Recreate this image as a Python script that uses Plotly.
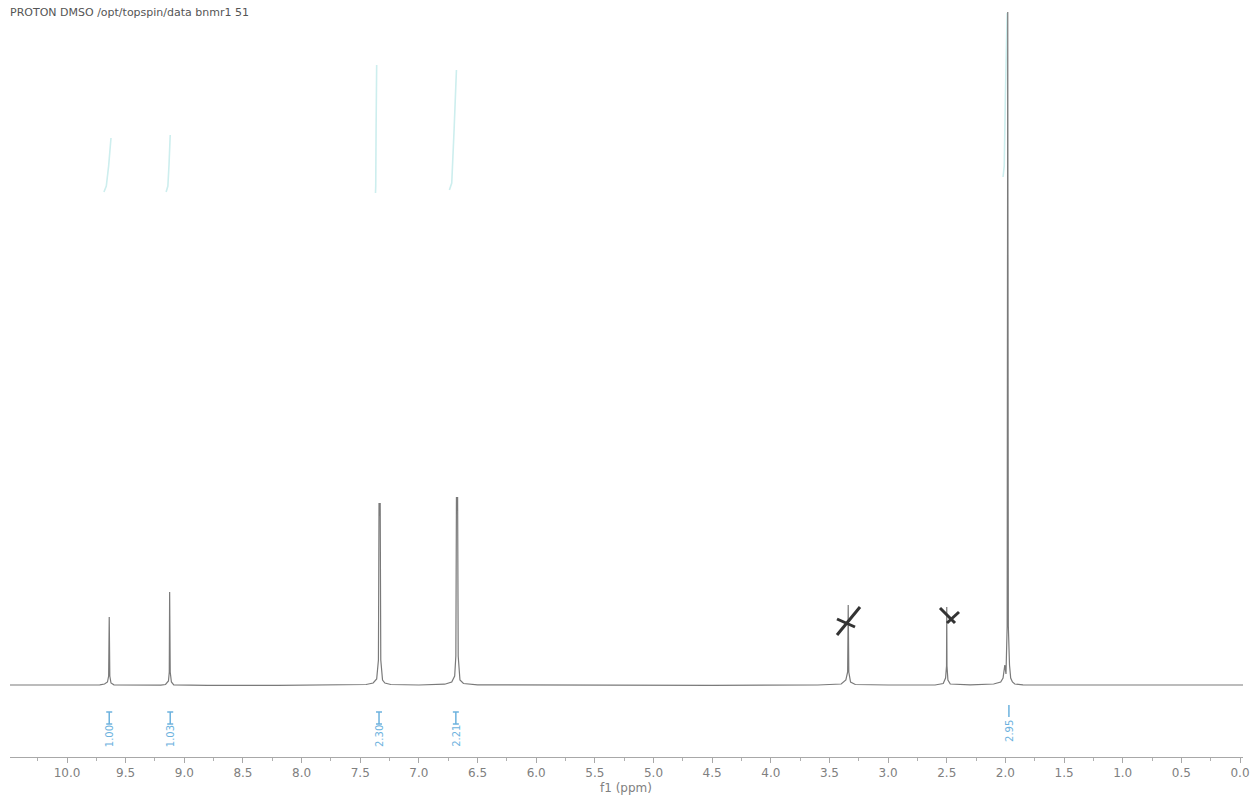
import plotly.graph_objects as go

# ---------------- data ----------------
spec_ppm = [10.49, 10.2, 9.9, 9.72, 9.68, 9.655, 9.645, 9.64, 9.635, 9.625, 9.60, 9.45,
            9.2, 9.16, 9.135, 9.128, 9.125, 9.12, 9.11, 9.09, 8.8, 8.2, 7.7, 7.45,
            7.39, 7.36, 7.345, 7.34, 7.335, 7.33, 7.325, 7.31, 7.29, 7.24, 7.0,
            6.78, 6.72, 6.695, 6.685, 6.68, 6.675, 6.67, 6.665, 6.65, 6.62, 6.5,
            5.5, 4.5, 3.6, 3.40, 3.36, 3.345, 3.34, 3.335, 3.32, 3.28, 3.0,
            2.6, 2.53, 2.51, 2.502, 2.50, 2.498, 2.49, 2.47, 2.30,
            2.10, 2.04, 2.02, 2.005, 1.995, 1.985, 1.98, 1.975, 1.965, 1.955, 1.94, 1.92,
            1.85, 1.6, 1.0, 0.5, -0.03]
spec_int = [1.0, 1.0, 1.0, 1.2, 2.0, 4.0, 10, 69, 10, 3, 1.2, 0.8,
            0.8, 1.5, 5, 14, 94, 14, 4, 1.2, 0.7, 0.6, 0.8, 1.5,
            3, 7, 26, 183, 170, 183, 26, 6, 3, 1.5, 1.0,
            1.8, 4, 10, 30, 189, 175, 189, 30, 6, 2.5, 1.2,
            0.8, 0.7, 1.0, 2, 6, 14, 81, 14, 4, 1.5, 1.0,
            1.0, 2.5, 8, 20, 79, 20, 6, 2, 1.2,
            2, 4, 8, 21, 12, 60, 674, 60, 21, 8, 4, 2,
            1.2, 1.0, 1.0, 1.0, 1.0]

# integral curves (ppm, level)
integral_ppm = [
    [9.685, 9.665, 9.645, 9.63, 9.625],
    [9.155, 9.14, 9.13, 9.122, 9.12],
    [7.37, 7.368, 7.365, 7.362, 7.36],
    [6.74, 6.72, 6.70, 6.685, 6.68],
    [2.02, 2.01, 2.0, 1.99, 1.985],
]
integral_lvl = [
    [494, 500, 520, 542, 548],
    [494, 500, 522, 546, 551],
    [493, 500, 557, 615, 621],
    [496, 503, 556, 610, 616],
    [509, 520, 590, 665, 673],
]
integral_labels = ["1.00", "1.03", "2.30", "2.21", "2.95"]
integral_label_ppm = [9.64, 9.12, 7.34, 6.685, 1.97]

tick_vals = [10.0, 9.5, 9.0, 8.5, 8.0, 7.5, 7.0, 6.5, 6.0, 5.5, 5.0, 4.5, 4.0,
             3.5, 3.0, 2.5, 2.0, 1.5, 1.0, 0.5, 0.0]
tick_text = ["10.0", "9.5", "9.0", "8.5", "8.0", "7.5", "7.0", "6.5", "6.0", "5.5",
             "5.0", "4.5", "4.0", "3.5", "3.0", "2.5", "2.0", "1.5", "1.0", "0.5", "0.0"]

header = "PROTON DMSO /opt/topspin/data bnmr1 51"
x_title = "f1 (ppm)"

# ---------------- layout helpers (page pixel coordinates) ----------------
W, H = 1253, 796
PL, PR, PT, PB = 10, 1243, 0, 757   # plot area edges in pixels
ML, MR, MT, MB = PL, W - PR, PT, H - PB
PX_PER_PPM = 117.3
X10 = 67  # pixel of 10.0 ppm
BASE_PX = 686


def px_x(px):
    return 10 - (px - X10) / PX_PER_PPM


def px_y(py):
    return BASE_PX - py


def paper_x(px):
    return (px - PL) / (PR - PL)


def paper_y(py):
    return (PB - py) / (PB - PT)


xr = [px_x(PL), px_x(PR)]
yr = [px_y(PB), px_y(PT)]

fig = go.Figure()

int_color = "#cdeeee"
for xs, ys in zip(integral_ppm, integral_lvl):
    fig.add_trace(go.Scatter(x=xs, y=ys, mode="lines",
                             line=dict(color=int_color, width=1.6),
                             hoverinfo="skip", showlegend=False))

fig.add_trace(go.Scatter(x=spec_ppm, y=spec_int, mode="lines",
                         line=dict(color="#7a7a7a", width=1.2),
                         hoverinfo="skip", showlegend=False))

shapes = []
annotations = []
lab_color = "#6cb2de"
for i, (lab, p) in enumerate(zip(integral_labels, integral_label_ppm)):
    if i < 4:
        annotations.append(dict(x=p, y=px_y(736), xref="x", yref="y", text=lab,
                                textangle=-90, showarrow=False,
                                font=dict(family="DejaVu Sans", size=10, color=lab_color)))
        shapes.append(dict(type="line", x0=p, x1=p, y0=px_y(712), y1=px_y(724),
                           xref="x", yref="y", line=dict(color=lab_color, width=1.5)))
        for yy in (712, 724):
            shapes.append(dict(type="line", x0=p - 3 / PX_PER_PPM, x1=p + 3 / PX_PER_PPM,
                               y0=px_y(yy), y1=px_y(yy), xref="x", yref="y",
                               line=dict(color=lab_color, width=1.5)))
    else:
        annotations.append(dict(x=p, y=px_y(731), xref="x", yref="y", text=lab,
                                textangle=-90, showarrow=False,
                                font=dict(family="DejaVu Sans", size=10, color=lab_color)))
        shapes.append(dict(type="line", x0=p, x1=p, y0=px_y(705), y1=px_y(717),
                           xref="x", yref="y", line=dict(color=lab_color, width=1.5)))

# hand-drawn crosses over solvent peaks
cross_strokes = [((837, 635), (860, 607)), ((837, 619), (855, 627)),
                 ((940, 608), (955, 623)), ((947, 623), (959, 612))]
for (a, b) in cross_strokes:
    shapes.append(dict(type="line", x0=px_x(a[0]), y0=px_y(a[1]), x1=px_x(b[0]), y1=px_y(b[1]),
                       xref="x", yref="y", line=dict(color="#333333", width=3)))

annotations.append(dict(x=paper_x(8), y=paper_y(12), xref="paper", yref="paper",
                        text=header, showarrow=False, xanchor="left", yanchor="middle",
                        font=dict(family="DejaVu Sans", size=11, color="#555555")))
annotations.append(dict(x=paper_x(626), y=paper_y(788), xref="paper", yref="paper",
                        text=x_title, showarrow=False, xanchor="center", yanchor="middle",
                        font=dict(family="DejaVu Sans", size=12, color="#808080")))

fig.update_layout(
    width=W, height=H,
    margin=dict(l=ML, r=MR, t=MT, b=MB, autoexpand=False),
    paper_bgcolor="white", plot_bgcolor="white",
    shapes=shapes, annotations=annotations,
    xaxis=dict(range=xr, tickvals=tick_vals, ticktext=tick_text,
               showgrid=False, zeroline=False, showline=True,
               linecolor="#a8a8a8", linewidth=1,
               ticks="outside", ticklen=5, tickcolor="#a8a8a8",
               minor=dict(dtick=0.25, ticks="outside", ticklen=3, tickcolor="#b0b0b0", showgrid=False),
               tickfont=dict(family="DejaVu Sans", size=12, color="#808080"),
               automargin=False),
    yaxis=dict(range=yr, visible=False, showgrid=False, zeroline=False),
)

fig.write_html("out.html", config={"displayModeBar": False},
               post_script="document.body.style.margin='0';document.body.style.overflow='hidden';")
